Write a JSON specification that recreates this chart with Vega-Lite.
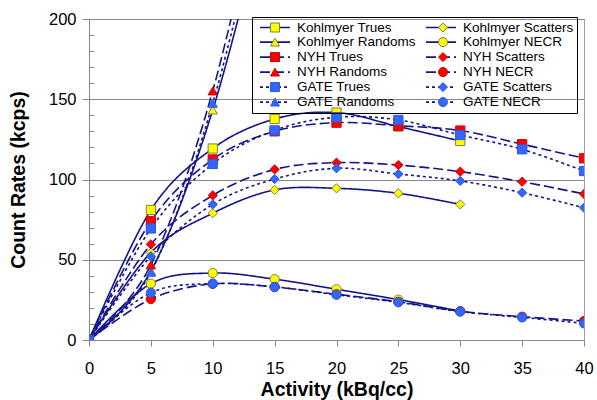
{
  "$schema": "https://vega.github.io/schema/vega-lite/v6.json",
  "width": 495,
  "height": 321,
  "autosize": {"type": "none"},
  "padding": {"left": 89, "top": 19, "right": 13, "bottom": 60},
  "background": "white",
  "config": {
    "view": {"stroke": "#a0a0a0", "strokeWidth": 1},
    "font": "Liberation Sans",
    "axis": {"labelFont": "Liberation Sans", "titleFont": "Liberation Sans", "labelColor": "black", "titleColor": "black", "domainColor": "#888888", "tickColor": "#888888", "gridColor": "#888888"}
  },
  "data": {
    "values": [
      {"series": "Kohlmyer Trues", "activity": 0, "rate": 0},
      {"series": "Kohlmyer Trues", "activity": 5, "rate": 81},
      {"series": "Kohlmyer Trues", "activity": 10, "rate": 119.3},
      {"series": "Kohlmyer Trues", "activity": 15, "rate": 137.7},
      {"series": "Kohlmyer Trues", "activity": 20, "rate": 141.7},
      {"series": "Kohlmyer Trues", "activity": 25, "rate": 133},
      {"series": "Kohlmyer Trues", "activity": 30, "rate": 124},
      {"series": "Kohlmyer Randoms", "activity": 0, "rate": 0},
      {"series": "Kohlmyer Randoms", "activity": 5, "rate": 43},
      {"series": "Kohlmyer Randoms", "activity": 10, "rate": 143.3},
      {"series": "Kohlmyer Randoms", "activity": 15, "rate": 290},
      {"series": "Kohlmyer Scatters", "activity": 0, "rate": 0},
      {"series": "Kohlmyer Scatters", "activity": 5, "rate": 54.5},
      {"series": "Kohlmyer Scatters", "activity": 10, "rate": 79},
      {"series": "Kohlmyer Scatters", "activity": 15, "rate": 93.5},
      {"series": "Kohlmyer Scatters", "activity": 20, "rate": 94.5},
      {"series": "Kohlmyer Scatters", "activity": 25, "rate": 91.4},
      {"series": "Kohlmyer Scatters", "activity": 30, "rate": 84.5},
      {"series": "Kohlmyer NECR", "activity": 0, "rate": 0},
      {"series": "Kohlmyer NECR", "activity": 5, "rate": 35.1},
      {"series": "Kohlmyer NECR", "activity": 10, "rate": 41.7},
      {"series": "Kohlmyer NECR", "activity": 15, "rate": 37.9},
      {"series": "Kohlmyer NECR", "activity": 20, "rate": 31.6},
      {"series": "Kohlmyer NECR", "activity": 25, "rate": 25.2},
      {"series": "Kohlmyer NECR", "activity": 30, "rate": 18},
      {"series": "NYH Trues", "activity": 0, "rate": 0},
      {"series": "NYH Trues", "activity": 5, "rate": 74},
      {"series": "NYH Trues", "activity": 10, "rate": 112.5},
      {"series": "NYH Trues", "activity": 15, "rate": 130},
      {"series": "NYH Trues", "activity": 20, "rate": 135.4},
      {"series": "NYH Trues", "activity": 25, "rate": 133.5},
      {"series": "NYH Trues", "activity": 30, "rate": 130.5},
      {"series": "NYH Trues", "activity": 35, "rate": 122},
      {"series": "NYH Trues", "activity": 40, "rate": 113.2},
      {"series": "NYH Randoms", "activity": 0, "rate": 0},
      {"series": "NYH Randoms", "activity": 5, "rate": 46.8},
      {"series": "NYH Randoms", "activity": 10, "rate": 155.2},
      {"series": "NYH Randoms", "activity": 15, "rate": 320},
      {"series": "NYH Scatters", "activity": 0, "rate": 0},
      {"series": "NYH Scatters", "activity": 5, "rate": 59.6},
      {"series": "NYH Scatters", "activity": 10, "rate": 90.1},
      {"series": "NYH Scatters", "activity": 15, "rate": 106.3},
      {"series": "NYH Scatters", "activity": 20, "rate": 110.5},
      {"series": "NYH Scatters", "activity": 25, "rate": 109},
      {"series": "NYH Scatters", "activity": 30, "rate": 104.9},
      {"series": "NYH Scatters", "activity": 35, "rate": 98.6},
      {"series": "NYH Scatters", "activity": 40, "rate": 91},
      {"series": "NYH NECR", "activity": 0, "rate": 0},
      {"series": "NYH NECR", "activity": 5, "rate": 25.5},
      {"series": "NYH NECR", "activity": 10, "rate": 35},
      {"series": "NYH NECR", "activity": 15, "rate": 33},
      {"series": "NYH NECR", "activity": 20, "rate": 28.5},
      {"series": "NYH NECR", "activity": 25, "rate": 23.8},
      {"series": "NYH NECR", "activity": 30, "rate": 17.9},
      {"series": "NYH NECR", "activity": 35, "rate": 14.5},
      {"series": "NYH NECR", "activity": 40, "rate": 11.8},
      {"series": "GATE Trues", "activity": 0, "rate": 0},
      {"series": "GATE Trues", "activity": 5, "rate": 69.5},
      {"series": "GATE Trues", "activity": 10, "rate": 109.7},
      {"series": "GATE Trues", "activity": 15, "rate": 130.6},
      {"series": "GATE Trues", "activity": 20, "rate": 138.8},
      {"series": "GATE Trues", "activity": 25, "rate": 137.1},
      {"series": "GATE Trues", "activity": 30, "rate": 127.7},
      {"series": "GATE Trues", "activity": 35, "rate": 118.8},
      {"series": "GATE Trues", "activity": 40, "rate": 105.3},
      {"series": "GATE Randoms", "activity": 0, "rate": 0},
      {"series": "GATE Randoms", "activity": 5, "rate": 42.2},
      {"series": "GATE Randoms", "activity": 10, "rate": 147.5},
      {"series": "GATE Randoms", "activity": 15, "rate": 305},
      {"series": "GATE Scatters", "activity": 0, "rate": 0},
      {"series": "GATE Scatters", "activity": 5, "rate": 52.2},
      {"series": "GATE Scatters", "activity": 10, "rate": 84.5},
      {"series": "GATE Scatters", "activity": 15, "rate": 100.3},
      {"series": "GATE Scatters", "activity": 20, "rate": 107},
      {"series": "GATE Scatters", "activity": 25, "rate": 103.4},
      {"series": "GATE Scatters", "activity": 30, "rate": 99.1},
      {"series": "GATE Scatters", "activity": 35, "rate": 91.8},
      {"series": "GATE Scatters", "activity": 40, "rate": 82.4},
      {"series": "GATE NECR", "activity": 0, "rate": 0},
      {"series": "GATE NECR", "activity": 5, "rate": 29.5},
      {"series": "GATE NECR", "activity": 10, "rate": 35.1},
      {"series": "GATE NECR", "activity": 15, "rate": 33.1},
      {"series": "GATE NECR", "activity": 20, "rate": 28.2},
      {"series": "GATE NECR", "activity": 25, "rate": 23.5},
      {"series": "GATE NECR", "activity": 30, "rate": 17.7},
      {"series": "GATE NECR", "activity": 35, "rate": 14.1},
      {"series": "GATE NECR", "activity": 40, "rate": 10.4}
    ]
  },
  "encoding": {
    "x": {
      "field": "activity", "type": "quantitative",
      "scale": {"domain": [0, 40], "nice": false, "zero": false},
      "axis": {"values": [0, 5, 10, 15, 20, 25, 30, 35, 40], "grid": false, "tickSize": 6, "labelFontSize": 16.5, "labelPadding": 14, "labelFlush": false, "title": "Activity (kBq/cc)", "titleFontSize": 19.5, "titleFontWeight": "bold", "titlePadding": 4}
    },
    "y": {
      "field": "rate", "type": "quantitative",
      "scale": {"domain": [0, 200], "nice": false},
      "axis": {
        "values": [0, 10, 20, 30, 40, 50, 60, 70, 80, 90, 100, 110, 120, 130, 140, 150, 160, 170, 180, 190, 200],
        "labelExpr": "datum.value % 50 === 0 ? datum.label : ''",
        "grid": true,
        "gridOpacity": {"condition": {"test": "datum.value % 50 === 0 && datum.value > 0", "value": 1}, "value": 0},
        "tickSize": {"condition": {"test": "datum.value % 50 === 0", "value": 7}, "value": -5},
        "labelFontSize": 16.5, "labelPadding": 6,
        "title": "Count Rates (kcps)", "titleFontSize": 19.5, "titleFontWeight": "bold", "titlePadding": 20
      }
    }
  },
  "layer": [
    {
      "mark": {"type": "line", "interpolate": "cardinal", "stroke": "#14148a", "strokeWidth": 1.6, "clip": true},
      "encoding": {
        "strokeDash": {
          "field": "series", "type": "nominal",
          "scale": {
            "domain": ["GATE NECR", "GATE Scatters", "NYH NECR", "NYH Scatters", "Kohlmyer NECR", "Kohlmyer Scatters", "GATE Randoms", "GATE Trues", "NYH Randoms", "NYH Trues", "Kohlmyer Randoms", "Kohlmyer Trues"],
            "range": [[3, 3], [3, 3], [10, 4], [10, 4], [1, 0], [1, 0], [3, 3], [3, 3], [10, 4], [10, 4], [1, 0], [1, 0]]
          },
          "legend": {
            "orient": "none", "legendX": 163, "legendY": -2, "columns": 2, "title": null,
            "values": ["Kohlmyer Trues", "Kohlmyer Randoms", "NYH Trues", "NYH Randoms", "GATE Trues", "GATE Randoms", "Kohlmyer Scatters", "Kohlmyer NECR", "NYH Scatters", "NYH NECR", "GATE Scatters", "GATE NECR"],
            "symbolType": "stroke", "symbolSize": 900, "symbolStrokeColor": "#14148a", "symbolStrokeWidth": 1.6, "symbolOffset": 4,
            "labelFont": "Liberation Sans", "labelFontSize": 13.5, "labelColor": "black", "labelOffset": 6, "labelLimit": 300,
            "labelExpr": "datum.label == 'Kohlmyer Scatters' ? datum.label + '\u00a0\u00a0' : datum.label",
            "columnPadding": 5, "rowPadding": 0, "clipHeight": 14.2, "padding": 3,
            "strokeColor": "black"
          }
        }
      }
    },
    {
      "mark": {"type": "point", "filled": true, "size": 85, "strokeWidth": 1, "opacity": 1, "clip": true},
      "encoding": {
        "fill": {
          "field": "series", "type": "nominal",
          "scale": {
            "domain": ["Kohlmyer Trues", "Kohlmyer Randoms", "NYH Trues", "NYH Randoms", "GATE Trues", "GATE Randoms", "Kohlmyer Scatters", "Kohlmyer NECR", "NYH Scatters", "NYH NECR", "GATE Scatters", "GATE NECR"],
            "range": ["#ffff00", "#ffff00", "#ff0000", "#ff0000", "#3366ff", "#3366ff", "#ffff00", "#ffff00", "#ff0000", "#ff0000", "#3366ff", "#3366ff"]
          },
          "legend": {
            "orient": "none", "legendX": 176.25, "legendY": -2, "columns": 2, "title": null,
            "symbolSize": 81, "symbolStrokeWidth": 1,
            "labelFontSize": 13.5, "labelOffset": 0, "labelExpr": "''",
            "columnPadding": 154, "rowPadding": 0, "clipHeight": 14.2, "padding": 3
          }
        },
        "stroke": {
          "field": "series", "type": "nominal",
          "scale": {
            "domain": ["Kohlmyer Trues", "Kohlmyer Randoms", "NYH Trues", "NYH Randoms", "GATE Trues", "GATE Randoms", "Kohlmyer Scatters", "Kohlmyer NECR", "NYH Scatters", "NYH NECR", "GATE Scatters", "GATE NECR"],
            "range": ["#7f7f3f", "#7f7f3f", "#d00000", "#d00000", "#2a5ad8", "#2a5ad8", "#7f7f3f", "#7f7f3f", "#d00000", "#d00000", "#2a5ad8", "#2a5ad8"]
          }
        },
        "shape": {
          "field": "series", "type": "nominal",
          "scale": {
            "domain": ["Kohlmyer Trues", "Kohlmyer Randoms", "NYH Trues", "NYH Randoms", "GATE Trues", "GATE Randoms", "Kohlmyer Scatters", "Kohlmyer NECR", "NYH Scatters", "NYH NECR", "GATE Scatters", "GATE NECR"],
            "range": ["square", "triangle-up", "square", "triangle-up", "square", "triangle-up", "diamond", "circle", "diamond", "circle", "diamond", "circle"]
          }
        }
      }
    }
  ]
}
